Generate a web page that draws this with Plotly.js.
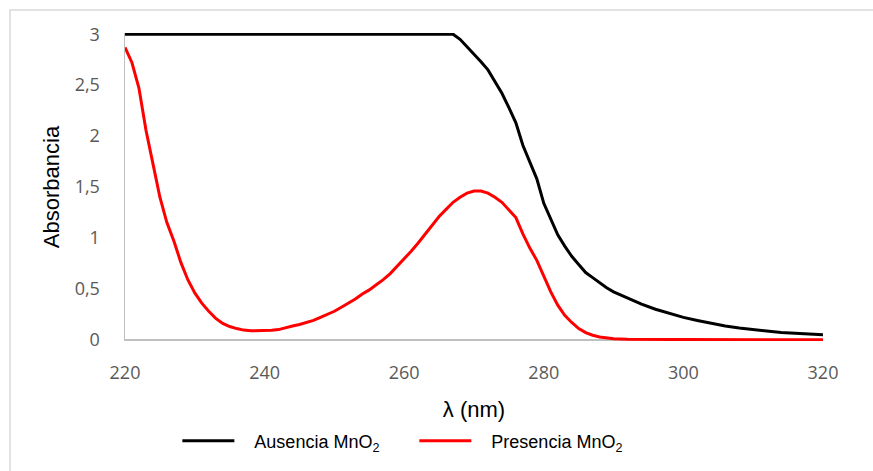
<!DOCTYPE html>
<html>
<head>
<meta charset="utf-8">
<script src="https://cdn.plot.ly/plotly-3.0.1.min.js"></script>
<style>html,body{margin:0;padding:0;background:#fff;}#chart{width:873px;height:471px;}</style>
</head>
<body>
<div id="chart"></div>
<script>
// Wavelengths (nm) and absorbance readings
const wlAusencia = [220,230,240,250,260,267,268,269,270,271,272,273,274,275,276,277,278,279,280,281,282,283,284,285,286,287,288,289,290,292,294,296,298,300,302,304,306,308,310,312,314,316,318,320];
const absAusencia = [3,3,3,3,3,3,2.95,2.88,2.80,2.73,2.65,2.54,2.42,2.28,2.13,1.91,1.74,1.58,1.34,1.18,1.03,0.92,0.82,0.74,0.66,0.61,0.56,0.51,0.47,0.41,0.35,0.30,0.26,0.22,0.19,0.16,0.135,0.115,0.10,0.085,0.072,0.063,0.055,0.05];

const wlPresencia = [220,221,222,223,224,225,226,227,228,229,230,231,232,233,234,235,236,237,238,239,240,241,242,243,244,245,246,247,248,249,250,251,252,253,254,255,256,257,258,259,260,261,262,263,264,265,266,267,268,269,270,271,272,273,274,275,276,277,278,279,280,281,282,283,284,285,286,287,288,289,290,292,294,296,298,300,302,304,306,308,310,312,314,316,318,320];
const absPresencia = [2.87,2.72,2.47,2.06,1.73,1.40,1.15,0.97,0.76,0.59,0.46,0.36,0.28,0.21,0.16,0.13,0.11,0.095,0.088,0.088,0.09,0.093,0.10,0.12,0.135,0.15,0.17,0.19,0.22,0.25,0.28,0.32,0.36,0.40,0.45,0.49,0.54,0.59,0.65,0.72,0.79,0.87,0.95,1.04,1.13,1.21,1.28,1.35,1.40,1.44,1.46,1.46,1.44,1.40,1.35,1.28,1.20,1.04,0.90,0.78,0.62,0.47,0.34,0.24,0.17,0.11,0.07,0.045,0.028,0.017,0.01,0.006,0.003,0.004,0.003,0.003,0.002,0.001,0.001,0.002,0.001,0.001,0,0,0,0];

const gap = '\u00a0\u00a0\u00a0';
const seriesNames = [gap + 'Ausencia MnO<sub>2</sub>', gap + 'Presencia MnO<sub>2</sub>'];
const yTicks = [0,0.5,1,1.5,2,2.5,3];
const xTicks = [220,240,260,280,300,320];

const traces = [
  {x: wlAusencia, y: absAusencia, name: seriesNames[0], type: 'scatter', mode: 'lines',
   line: {color: '#000000', width: 3}},
  {x: wlPresencia, y: absPresencia, name: seriesNames[1], type: 'scatter', mode: 'lines',
   line: {color: '#ff0000', width: 3}}
];

const layout = {
  width: 873, height: 471,
  margin: {l: 125, r: 50, t: 33, b: 130},
  paper_bgcolor: '#ffffff', plot_bgcolor: '#ffffff',
  separators: ', ',
  showlegend: true,
  legend: {orientation: 'h', x: 0.075, xanchor: 'left', y: -0.325, yanchor: 'middle',
           font: {family: 'Liberation Sans, Arial, sans-serif', size: 18, color: '#000'},
           entrywidth: 170, entrywidthmode: 'pixels', itemwidth: 52, traceorder: 'normal'},
  xaxis: {
    range: [220, 320], tickvals: xTicks, ticks: '', showgrid: false, zeroline: false,
    showline: false, ticklabelstandoff: 19,
    tickfont: {family: 'Open Sans, sans-serif', size: 18, color: '#595959'},
    title: {text: 'λ (nm)', font: {family: 'Liberation Sans, Arial, sans-serif', size: 22, color: '#000'}, standoff: 18}
  },
  yaxis: {
    range: [-0.012, 3.012], tickvals: yTicks, ticks: '', showgrid: false,
    zeroline: true, zerolinecolor: '#c0c0c0', zerolinewidth: 1.5,
    showline: true, linecolor: '#c0c0c0', linewidth: 1.5, ticklabelstandoff: 20,
    tickfont: {family: 'Open Sans, sans-serif', size: 18, color: '#595959'},
    title: {text: 'Absorbancia', font: {family: 'Liberation Sans, Arial, sans-serif', size: 22, color: '#000'}, standoff: 9}
  },
  shapes: [
    {type: 'rect', xref: 'paper', yref: 'paper', x0: -0.1648, x1: 1.075, y0: -0.46, y1: 1.0747,
     line: {color: '#d9d9d9', width: 1.5}, fillcolor: 'rgba(0,0,0,0)', layer: 'below'}
  ]
};

Plotly.newPlot('chart', traces, layout, {staticPlot: true, displayModeBar: false});
</script>
</body>
</html>
